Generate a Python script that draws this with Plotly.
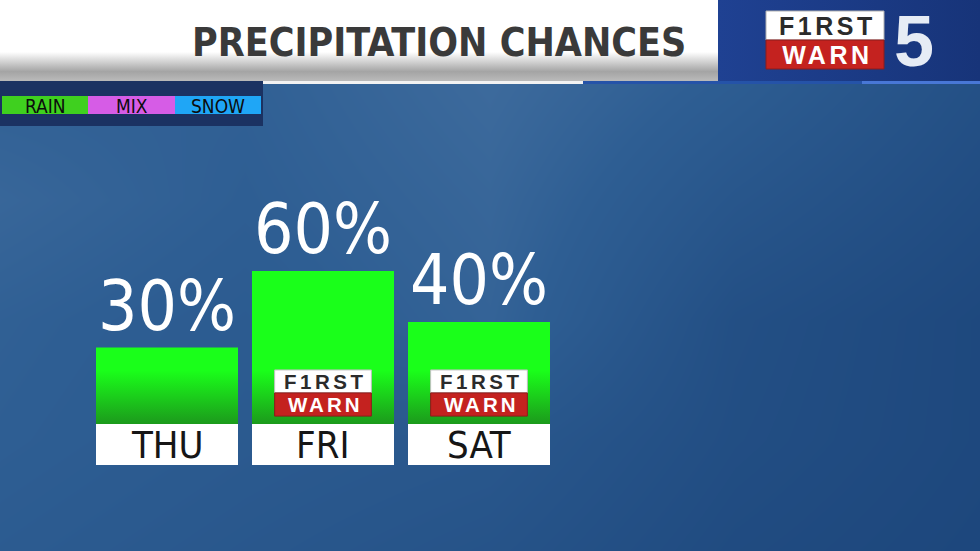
import plotly.graph_objects as go

# ---------------- data ----------------
days = ["THU", "FRI", "SAT"]
chances = [30, 60, 40]
logo_days = ["FRI", "SAT"]
legend_labels = ["RAIN", "MIX", "SNOW"]
legend_colors = ["#3fd01f", "#d65ce6", "#1fa6f6"]
title_text = "PRECIPITATION CHANCES"

# background brightness grid (decorative)
bg_x = [0, 245, 490, 735, 980]
bg_y = [82, 200, 320, 440, 551]
bg_z = [
    [0.52, 0.52, 0.62, 0.48, 0.30],
    [0.58, 0.50, 0.58, 0.38, 0.24],
    [0.52, 0.46, 0.55, 0.28, 0.18],
    [0.50, 0.44, 0.40, 0.26, 0.18],
    [0.46, 0.40, 0.34, 0.22, 0.16],
]

W, H = 980, 551
COND = "DejaVu Sans Condensed, sans-serif"
BOLD = "Liberation Sans, Arial, sans-serif"


def logo_text(size, ls_top, ls_bot):
    return (f"<span style='font-size:{size}px;letter-spacing:{ls_top}px;color:#2b2b2b'><b>F1RST</b></span><br>"
            f"<span style='font-size:{size}px;letter-spacing:{ls_bot}px;color:#ffffff'><b>WARN</b></span>")


fig = go.Figure()

# background on pixel-like axes (x, y)
fig.add_trace(go.Heatmap(x=bg_x, y=bg_y, z=bg_z, zsmooth="best", showscale=False,
                         colorscale=[[0, "#153c72"], [0.5, "#2e5e93"], [1, "#6b91b9"]],
                         zmin=0, zmax=1, hoverinfo="skip", xaxis="x", yaxis="y"))

# header white/gray band
fig.add_trace(go.Scatter(x=[0, 718, 718, 0, 0], y=[0, 0, 82, 82, 0], mode="lines",
                         line=dict(width=0), fill="toself",
                         fillgradient=dict(type="vertical", start=52, stop=80,
                                           colorscale=[[0, "#ffffff"], [0.7, "#a4a4a4"], [1, "#b8b8b8"]]),
                         hoverinfo="skip", showlegend=False, xaxis="x", yaxis="y"))
# header blue logo band
fig.add_trace(go.Scatter(x=[718, 980, 980, 718, 718], y=[0, 0, 82, 82, 0], mode="lines",
                         line=dict(width=0), fill="toself",
                         fillgradient=dict(type="horizontal", start=718, stop=980,
                                           colorscale=[[0, "#1f4192"], [1, "#173479"]]),
                         hoverinfo="skip", showlegend=False, xaxis="x", yaxis="y"))

# bars on overlay axes (x2, y2)
xs = list(range(len(days)))
bw = 142 / 156
fig.add_trace(go.Bar(x=xs, y=chances, width=bw, marker=dict(color="#1aff1a", line=dict(width=0)),
                     hoverinfo="skip", showlegend=False, xaxis="x2", yaxis="y2"))
# darker gradient at bar bottoms
gx, gy = [], []
for i, v in zip(xs, chances):
    top = min(v, 22)
    gx += [i - bw / 2, i + bw / 2, i + bw / 2, i - bw / 2, i - bw / 2, None]
    gy += [0, 0, top, top, 0, None]
fig.add_trace(go.Scatter(x=gx, y=gy, mode="lines", line=dict(width=0), fill="toself",
                         fillgradient=dict(type="vertical", start=0, stop=21,
                                           colorscale=[[0, "#1c9a1c"], [1, "#1aff1a"]]),
                         hoverinfo="skip", showlegend=False, xaxis="x2", yaxis="y2"))
# white day-label boxes
box_h = 41 / 2.55
fig.add_trace(go.Bar(x=xs, y=[box_h] * len(days), base=[-box_h] * len(days), width=bw,
                     marker=dict(color="#ffffff", line=dict(width=0)),
                     hoverinfo="skip", showlegend=False, xaxis="x2", yaxis="y2"))

shapes = []
annotations = []

# header underline strips
shapes += [
    dict(type="rect", x0=0, x1=263, y0=81, y1=126, fillcolor="#1b3262", line_width=0),
    dict(type="rect", x0=263, x1=583, y0=81, y1=84, fillcolor="#f2f2f2", line_width=0),
    dict(type="rect", x0=583, x1=862, y0=81, y1=84, fillcolor="#2553a8", line_width=0),
    dict(type="rect", x0=862, x1=980, y0=81, y1=84, fillcolor="#4877d6", line_width=0),
]
# legend swatches
lx = [2, 88, 175, 261]
for k, (lab, col) in enumerate(zip(legend_labels, legend_colors)):
    shapes.append(dict(type="rect", x0=lx[k], x1=lx[k + 1], y0=96, y1=114, fillcolor=col, line_width=0))
    annotations.append(dict(x=(lx[k] + lx[k + 1]) / 2, y=105.5, xref="x", yref="y", text=lab,
                            showarrow=False,
                            font=dict(family=COND, size=19, color="#0c0c0c")))

# top-right logo
shapes += [
    dict(type="rect", x0=766, x1=884, y0=11, y1=40, fillcolor="#ffffff", line=dict(color="#b0b0b0", width=1)),
    dict(type="rect", x0=766, x1=884, y0=40, y1=69, fillcolor="#c4221f", line=dict(color="#8a1c1c", width=1)),
]
annotations += [
    dict(x=825, y=40, xref="x", yref="y", text=logo_text(25, 3.5, 3.5), showarrow=False,
         xshift=2, font=dict(family=BOLD, size=29 / 1.3, color="#2b2b2b")),
    dict(x=914, y=41, xref="x", yref="y", text="<b>5</b>", showarrow=False,
         font=dict(family=BOLD, size=72, color="#e6ecf5")),
]

# title
annotations.append(dict(x=688, y=42, xref="x", yref="y", text="<b>" + title_text + "</b>",
                        xanchor="right", showarrow=False,
                        font=dict(family=COND, size=39, color="#3a3a3a")))

# bar logos
for d in logo_days:
    i = days.index(d)
    shapes += [
        dict(type="rect", xref="x2", yref="y2", x0=i - 0.31, x1=i + 0.31, y0=12.2, y1=21.2,
             fillcolor="#ffffff", line=dict(color="#c0c0c0", width=1)),
        dict(type="rect", xref="x2", yref="y2", x0=i - 0.31, x1=i + 0.31, y0=3.1, y1=12.2,
             fillcolor="#c4221f", line=dict(color="#8a1c1c", width=1)),
    ]
    annotations.append(dict(x=i, y=12.2, xref="x2", yref="y2", text=logo_text(20.5, 3.5, 3),
                            showarrow=False, xshift=2,
                            font=dict(family=BOLD, size=23 / 1.3, color="#2b2b2b")))

# percent labels and day labels
for i, (d, v) in enumerate(zip(days, chances)):
    annotations.append(dict(x=i, y=v, xref="x2", yref="y2", text=f"{v}%", showarrow=False,
                            yanchor="bottom", yshift=0,
                            font=dict(family=COND, size=69, color="#ffffff")))
    annotations.append(dict(x=i, y=-box_h / 2, xref="x2", yref="y2", text=d, showarrow=False,
                            font=dict(family=COND, size=38, color="#161616")))

fig.update_layout(
    width=W, height=H, margin=dict(l=0, r=0, t=0, b=0),
    paper_bgcolor="#2a5a8e", plot_bgcolor="rgba(0,0,0,0)",
    showlegend=False, barmode="overlay",
    xaxis=dict(range=[0, W], visible=False, fixedrange=True),
    yaxis=dict(range=[H, 0], visible=False, fixedrange=True),
    xaxis2=dict(range=[-167 / 156, (W - 167) / 156], overlaying="x", visible=False, fixedrange=True),
    yaxis2=dict(range=[-(H - 424) / 2.55, 424 / 2.55], overlaying="y", visible=False, fixedrange=True),
    shapes=shapes, annotations=annotations,
)

fig.write_html("out.html", config={"displayModeBar": False},
               post_script="document.body.style.margin='0';document.body.style.overflow='hidden';")
